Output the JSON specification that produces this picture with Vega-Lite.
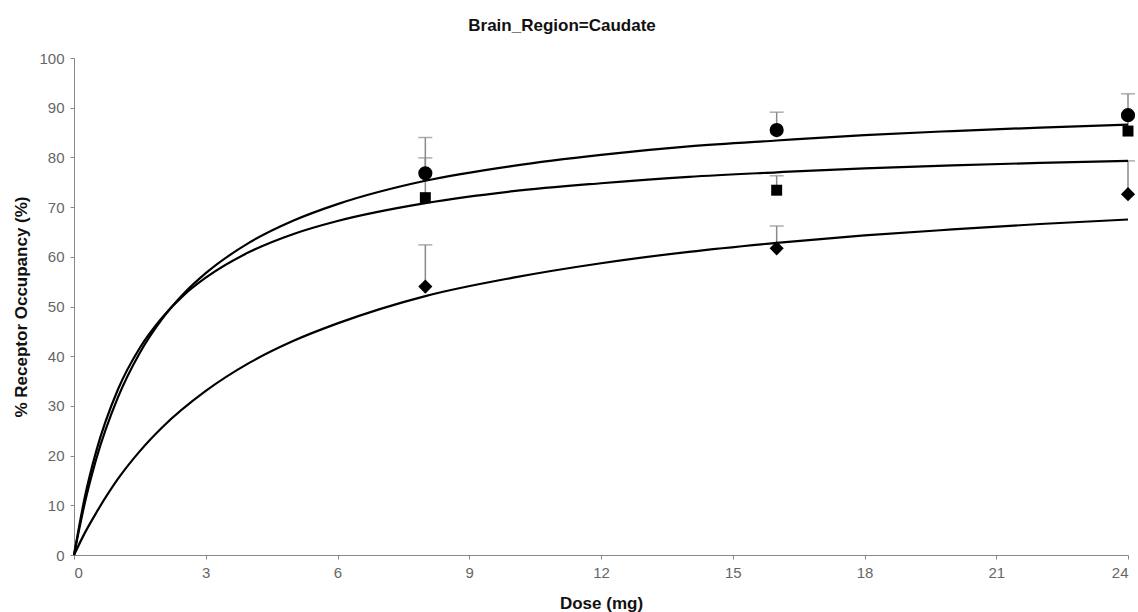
{
  "$schema": "https://vega.github.io/schema/vega-lite/v6.json",
  "autosize": {"type": "none"},
  "width": 1054,
  "height": 497,
  "padding": {"left": 74, "top": 58, "right": 10, "bottom": 57},
  "background": "white",
  "title": {
    "text": "Brain_Region=Caudate",
    "font": "Liberation Sans",
    "fontSize": 17,
    "fontWeight": "bold",
    "color": "#111111",
    "anchor": "middle",
    "dx": -39,
    "offset": 16
  },
  "config": {
    "view": {"stroke": null},
    "axis": {
      "grid": false,
      "domainColor": "#888888",
      "tickColor": "#888888",
      "tickSize": 4,
      "labelFont": "Liberation Sans",
      "labelFontSize": 15,
      "labelColor": "#666666",
      "titleFont": "Liberation Sans",
      "titleFontSize": 17,
      "titleFontWeight": "bold",
      "titleColor": "#111111"
    }
  },
  "datasets": {
    "curves": [
      {"group": "A", "dose": 0, "occupancy": 0},
      {"group": "A", "dose": 0.25, "occupancy": 10.6},
      {"group": "A", "dose": 0.5, "occupancy": 19.1},
      {"group": "A", "dose": 1, "occupancy": 31.7},
      {"group": "A", "dose": 1.5, "occupancy": 40.7},
      {"group": "A", "dose": 2, "occupancy": 47.4},
      {"group": "A", "dose": 2.5, "occupancy": 52.6},
      {"group": "A", "dose": 3, "occupancy": 56.7},
      {"group": "A", "dose": 4, "occupancy": 62.9},
      {"group": "A", "dose": 5, "occupancy": 67.3},
      {"group": "A", "dose": 6, "occupancy": 70.6},
      {"group": "A", "dose": 8, "occupancy": 75.3},
      {"group": "A", "dose": 10, "occupancy": 78.3},
      {"group": "A", "dose": 12, "occupancy": 80.5},
      {"group": "A", "dose": 14, "occupancy": 82.2},
      {"group": "A", "dose": 16, "occupancy": 83.4},
      {"group": "A", "dose": 18, "occupancy": 84.5},
      {"group": "A", "dose": 20, "occupancy": 85.3},
      {"group": "A", "dose": 22, "occupancy": 86.0},
      {"group": "A", "dose": 24, "occupancy": 86.6},
      {"group": "B", "dose": 0, "occupancy": 0},
      {"group": "B", "dose": 0.25, "occupancy": 11.8},
      {"group": "B", "dose": 0.5, "occupancy": 20.7},
      {"group": "B", "dose": 1, "occupancy": 33.3},
      {"group": "B", "dose": 1.5, "occupancy": 41.7},
      {"group": "B", "dose": 2, "occupancy": 47.7},
      {"group": "B", "dose": 2.5, "occupancy": 52.3},
      {"group": "B", "dose": 3, "occupancy": 55.8},
      {"group": "B", "dose": 4, "occupancy": 61.0},
      {"group": "B", "dose": 5, "occupancy": 64.6},
      {"group": "B", "dose": 6, "occupancy": 67.2},
      {"group": "B", "dose": 8, "occupancy": 70.8},
      {"group": "B", "dose": 10, "occupancy": 73.2},
      {"group": "B", "dose": 12, "occupancy": 74.8},
      {"group": "B", "dose": 14, "occupancy": 76.1},
      {"group": "B", "dose": 16, "occupancy": 77.0},
      {"group": "B", "dose": 18, "occupancy": 77.8},
      {"group": "B", "dose": 20, "occupancy": 78.4},
      {"group": "B", "dose": 22, "occupancy": 78.9},
      {"group": "B", "dose": 24, "occupancy": 79.3},
      {"group": "C", "dose": 0, "occupancy": 0},
      {"group": "C", "dose": 0.25, "occupancy": 4.5},
      {"group": "C", "dose": 0.5, "occupancy": 8.4},
      {"group": "C", "dose": 1, "occupancy": 15.3},
      {"group": "C", "dose": 1.5, "occupancy": 20.9},
      {"group": "C", "dose": 2, "occupancy": 25.6},
      {"group": "C", "dose": 3, "occupancy": 33.0},
      {"group": "C", "dose": 4, "occupancy": 38.7},
      {"group": "C", "dose": 5, "occupancy": 43.1},
      {"group": "C", "dose": 6, "occupancy": 46.6},
      {"group": "C", "dose": 8, "occupancy": 52.1},
      {"group": "C", "dose": 10, "occupancy": 55.8},
      {"group": "C", "dose": 12, "occupancy": 58.7},
      {"group": "C", "dose": 14, "occupancy": 61.0},
      {"group": "C", "dose": 16, "occupancy": 62.8},
      {"group": "C", "dose": 18, "occupancy": 64.3},
      {"group": "C", "dose": 20, "occupancy": 65.5},
      {"group": "C", "dose": 22, "occupancy": 66.6},
      {"group": "C", "dose": 24, "occupancy": 67.5}
    ],
    "observed": [
      {"group": "A", "dose": 8, "mean": 76.8, "upper": 84.0},
      {"group": "A", "dose": 16, "mean": 85.5, "upper": 89.1},
      {"group": "A", "dose": 24, "mean": 88.5, "upper": 92.8},
      {"group": "B", "dose": 8, "mean": 71.9, "upper": 79.9},
      {"group": "B", "dose": 16, "mean": 73.4, "upper": 76.3},
      {"group": "B", "dose": 24, "mean": 85.3, "upper": 88.0},
      {"group": "C", "dose": 8, "mean": 54.0, "upper": 62.4},
      {"group": "C", "dose": 16, "mean": 61.7, "upper": 66.2},
      {"group": "C", "dose": 24, "mean": 72.6, "upper": 79.3}
    ]
  },
  "encoding": {
    "x": {
      "type": "quantitative",
      "scale": {"domain": [0, 24], "nice": false},
      "axis": {"values": [0, 3, 6, 9, 12, 15, 18, 21, 24], "title": "Dose (mg)", "labelPadding": 6, "titlePadding": 15}
    },
    "y": {
      "type": "quantitative",
      "scale": {"domain": [0, 100], "nice": false},
      "axis": {"values": [0, 10, 20, 30, 40, 50, 60, 70, 80, 90, 100], "title": "% Receptor Occupancy (%)", "labelPadding": 6, "titlePadding": 8}
    }
  },
  "layer": [
    {
      "data": {"name": "observed"},
      "mark": {"type": "rule", "color": "#8a8a8a", "strokeWidth": 1.5},
      "encoding": {
        "x": {"field": "dose"},
        "y": {"field": "mean"},
        "y2": {"field": "upper"}
      }
    },
    {
      "data": {"name": "observed"},
      "mark": {"type": "tick", "orient": "horizontal", "color": "#8a8a8a", "size": 14, "thickness": 1.5},
      "encoding": {
        "x": {"field": "dose"},
        "y": {"field": "upper"}
      }
    },
    {
      "data": {"name": "curves"},
      "mark": {"type": "line", "color": "black", "strokeWidth": 2.2, "interpolate": "monotone"},
      "encoding": {
        "x": {"field": "dose"},
        "y": {"field": "occupancy"},
        "detail": {"field": "group"}
      }
    },
    {
      "data": {"name": "observed"},
      "transform": [{"filter": "datum.group === 'A'"}],
      "mark": {"type": "point", "shape": "circle", "size": 200, "filled": true, "color": "black", "opacity": 1},
      "encoding": {
        "x": {"field": "dose"},
        "y": {"field": "mean"}
      }
    },
    {
      "data": {"name": "observed"},
      "transform": [{"filter": "datum.group === 'B'"}],
      "mark": {"type": "point", "shape": "square", "size": 120, "filled": true, "color": "black", "opacity": 1},
      "encoding": {
        "x": {"field": "dose"},
        "y": {"field": "mean"}
      }
    },
    {
      "data": {"name": "observed"},
      "transform": [{"filter": "datum.group === 'C'"}],
      "mark": {"type": "point", "shape": "diamond", "size": 200, "filled": true, "color": "black", "opacity": 1},
      "encoding": {
        "x": {"field": "dose"},
        "y": {"field": "mean"}
      }
    }
  ]
}
